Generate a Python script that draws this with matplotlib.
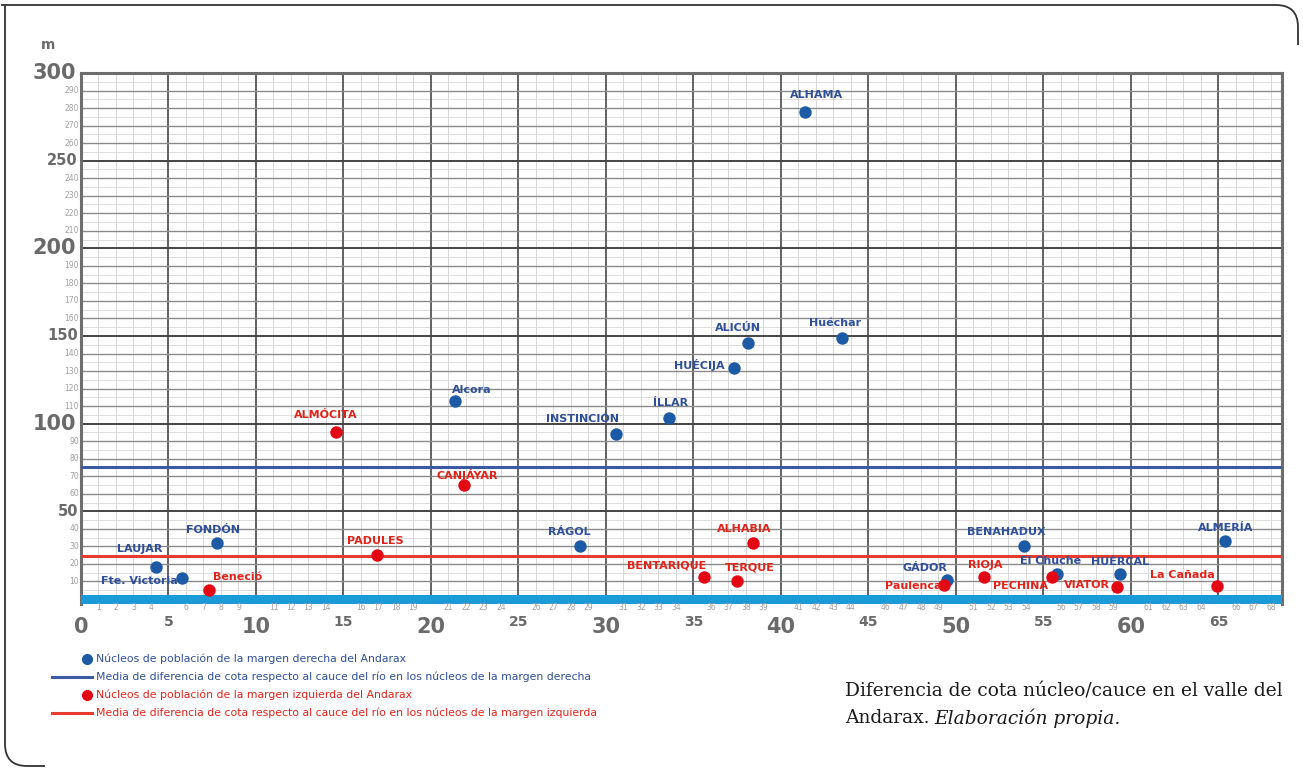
import matplotlib
matplotlib.use("Agg")
import matplotlib.pyplot as plt
from matplotlib.lines import Line2D
from matplotlib.path import Path
from matplotlib.patches import PathPatch
import matplotlib.transforms as mtransforms
import numpy as np

plt.rcParams["font.family"] = ["Liberation Sans Narrow", "DejaVu Sans"]

W, H = 1303, 771

# Núcleos margen derecha (azul)
blue_names = ["LAUJAR", "Fte. Victoria", "FONDÓN", "Alcora", "RÁGOL", "INSTINCIÓN",
              "ÍLLAR", "HUÉCIJA", "ALICÚN", "ALHAMA", "Huéchar", "GÁDOR",
              "BENAHADUX", "El Chuche", "HUÉRCAL", "ALMERÍA"]
blue_x = [4.3, 5.8, 7.8, 21.4, 28.5, 30.6, 33.6, 37.3, 38.1, 41.4, 43.5, 49.5,
          53.9, 55.8, 59.4, 65.4]
blue_y = [18, 12, 32, 113, 30, 94, 103, 132, 146, 278, 149, 11, 30, 14, 14, 33]

# Núcleos margen izquierda (rojo)
red_names = ["Beneció", "ALMÓCITA", "PADULES", "CANJÁYAR", "BENTARIQUE", "TERQUE",
             "ALHABIA", "Paulenca", "RIOJA", "PECHINA", "VIATOR", "La Cañada"]
red_x = [7.3, 14.6, 16.9, 21.9, 35.6, 37.5, 38.4, 49.3, 51.6, 55.5, 59.2, 64.9]
red_y = [5, 95, 25, 65, 12.5, 10, 32, 8, 12.5, 12.5, 7, 7.5]

# colocación de etiquetas (px respecto al punto)
label_pos = {
    "LAUJAR": (-17, 18, "center"), "Fte. Victoria": (-5, -3, "right"),
    "FONDÓN": (-4, 13, "center"), "Alcora": (-4, 11, "left"),
    "RÁGOL": (-10, 14, "center"), "INSTINCIÓN": (3, 15, "right"),
    "ÍLLAR": (2, 15, "center"), "HUÉCIJA": (-9, 3, "right"),
    "ALICÚN": (-10, 15, "center"), "ALHAMA": (11, 17, "center"),
    "Huéchar": (-7, 15, "center"), "GÁDOR": (0, 12, "right"),
    "BENAHADUX": (-18, 14, "center"), "El Chuche": (-7, 13, "center"),
    "HUÉRCAL": (0, 12, "center"), "ALMERÍA": (0, 13, "center"),
    "Beneció": (4, 13, "left"), "ALMÓCITA": (-11, 17, "center"),
    "PADULES": (-1, 14, "center"), "CANJÁYAR": (3, 10, "center"),
    "BENTARIQUE": (2, 12, "right"), "TERQUE": (13, 14, "center"),
    "ALHABIA": (-9, 14, "center"), "Paulenca": (-2, -1, "right"),
    "RIOJA": (1, 12, "center"), "PECHINA": (-4, -9, "right"),
    "VIATOR": (-7, 2, "right"), "La Cañada": (-2, 11, "right"),
}

BLUE_DOT = "#1d5aa6"
RED_DOT = "#e30613"
BLUE_TXT = "#2e4f9a"
RED_TXT = "#e2231a"
BLUE_LINE = "#3c5aa2"
RED_LINE = "#e63b2e"
CYAN = "#1a9ad6"

fig = plt.figure(figsize=(W / 100, H / 100), dpi=100)
fig.patch.set_facecolor("white")

x0, x1 = 81, 1282
ytop, ybot = 73, 604.25
ax = fig.add_axes([x0 / W, 1 - ybot / H, (x1 - x0) / W, (ybot - ytop) / H])
ax.set_xlim(0, 68.63)
ax.set_ylim(-3, 300)

# cuadrícula
for v in np.arange(1, 69, 1):
    if v % 5 == 0:
        ax.axvline(v, color="#555555", lw=1.3, zorder=1)
    else:
        ax.axvline(v, color="#d8d8d8", lw=0.7, zorder=0)
for h in np.arange(5, 300, 5):
    if h % 50 == 0:
        ax.axhline(h, color="#444444", lw=1.4, zorder=1)
    elif h % 10 == 0:
        ax.axhline(h, color="#8a8a8a", lw=1.0, zorder=1)
    else:
        ax.axhline(h, color="#dddddd", lw=0.7, zorder=0)

# cauce
ax.axhspan(-3, 2.3, color=CYAN, zorder=3, lw=0)

# medias
ax.axhline(np.mean(blue_y), color=BLUE_LINE, lw=2.2, zorder=3)
ax.axhline(np.mean(red_y), color=RED_LINE, lw=2.2, zorder=3)

ax.scatter(blue_x, blue_y, s=80, color=BLUE_DOT, zorder=5, lw=0)
ax.scatter(red_x, red_y, s=80, color=RED_DOT, zorder=5, lw=0)

for names, xs, ys, col in [(blue_names, blue_x, blue_y, BLUE_TXT),
                           (red_names, red_x, red_y, RED_TXT)]:
    for n, xv, yv in zip(names, xs, ys):
        dx, dy, ha = label_pos[n]
        ax.annotate(n, (xv, yv), xytext=(dx, dy), textcoords="offset pixels",
                    ha=ha, va="center", fontsize=8, fontweight="bold",
                    color=col, zorder=6)

# marco
for s in ["left", "top", "right"]:
    ax.spines[s].set_color("#6d6d6d")
    ax.spines[s].set_linewidth(2.2)
ax.spines["bottom"].set_visible(False)
ax.set_xticks([])
ax.set_yticks([])

# etiquetas eje x
tx = mtransforms.blended_transform_factory(ax.transData, fig.transFigure)
for v in range(0, 69):
    if v % 10 == 0:
        ax.text(v, 1 - 627 / H, str(v), transform=tx, ha="center", va="center",
                fontsize=15, fontweight="bold", color="#6a6a6a")
    elif v % 5 == 0:
        ax.text(v, 1 - 622 / H, str(v), transform=tx, ha="center", va="center",
                fontsize=10, fontweight="bold", color="#6a6a6a")
    else:
        ax.text(v, 1 - 607 / H, str(v), transform=tx, ha="center", va="center",
                fontsize=5.5, color="#a0a0a0")

# etiquetas eje y
ty = mtransforms.blended_transform_factory(fig.transFigure, ax.transData)
for v in range(10, 301, 10):
    if v % 100 == 0:
        ax.text(76 / W, v, str(v), transform=ty, ha="right", va="center",
                fontsize=15, fontweight="bold", color="#6a6a6a")
    elif v % 50 == 0:
        ax.text(78 / W, v, str(v), transform=ty, ha="right", va="center",
                fontsize=10.5, fontweight="bold", color="#6a6a6a")
    else:
        ax.text(79 / W, v, str(v), transform=ty, ha="right", va="center",
                fontsize=5.5, color="#a0a0a0")

fig.text(48 / W, 1 - 45 / H, "m", ha="center", va="center", fontsize=10,
         fontweight="bold", color="#6a6a6a")

# leyenda
leg_rows = [
    ("dot", BLUE_DOT, BLUE_TXT, "Núcleos de población de la margen derecha del Andarax"),
    ("line", BLUE_LINE, BLUE_TXT, "Media de diferencia de cota respecto al cauce del río en los núcleos de la margen derecha"),
    ("dot", RED_DOT, RED_TXT, "Núcleos de población de la margen izquierda del Andarax"),
    ("line", RED_LINE, RED_TXT, "Media de diferencia de cota respecto al cauce del río en los núcleos de la margen izquierda"),
]
for i, (kind, mc, tc, txt) in enumerate(leg_rows):
    yy = 1 - (659 + 18 * i) / H
    if kind == "dot":
        fig.add_artist(Line2D([87 / W], [yy], marker="o", markersize=7,
                              color=mc, lw=0, transform=fig.transFigure))
    else:
        fig.add_artist(Line2D([52 / W, 92 / W], [yy, yy], color=mc, lw=2.2,
                              transform=fig.transFigure))
    fig.text(96 / W, yy, txt, ha="left", va="center", fontsize=7.8, color=tc)

# pie
serif = dict(fontsize=13.4, family="DejaVu Serif", color="#1a1a1a",
             ha="left", va="center")
fig.text(845 / W, 1 - 691 / H, "Diferencia de cota núcleo/cauce en el valle del", **serif)
t_and = fig.text(845 / W, 1 - 718 / H, "Andarax.", **serif)
fig.canvas.draw()
bb = t_and.get_window_extent()
fig.text((bb.x1 + 5) / W, 1 - 718 / H, "Elaboración propia.", style="italic", **serif)

# borde con esquinas redondeadas
def px(x, y):
    return (x / W, 1 - y / H)

p1 = Path([px(1, 5), px(5, 5), px(5, 744), px(5, 766), px(27, 766), px(45, 766)],
          [Path.MOVETO, Path.LINETO, Path.LINETO, Path.CURVE3, Path.CURVE3, Path.LINETO])
p2 = Path([px(5, 5), px(1276, 5), px(1298, 5), px(1298, 27), px(1298, 45)],
          [Path.MOVETO, Path.LINETO, Path.CURVE3, Path.CURVE3, Path.LINETO])
for p in (p1, p2):
    fig.add_artist(PathPatch(p, fill=False, edgecolor="#333333", lw=1.3,
                             transform=fig.transFigure))

fig.savefig("out.png", dpi=100)
